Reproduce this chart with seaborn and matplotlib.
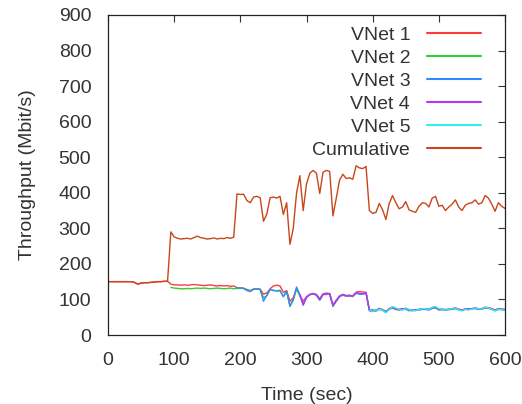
import numpy as np
import pandas as pd
import matplotlib
matplotlib.use("Agg")
import matplotlib.pyplot as plt
import seaborn as sns

# ---- data ----
time = np.arange(0, 601, 5)

cumulative = [
    150, 150, 150, 150, 150, 150, 150, 150, 148, 143,
    146, 147, 147, 148, 149, 150, 150, 151, 151, 290,
    276, 272, 270, 271, 272, 270, 274, 278, 274, 272,
    270, 271, 273, 270, 272, 271, 274, 272, 275, 397,
    395, 396, 378, 372, 388, 390, 386, 320, 340, 386,
    388, 385, 390, 339, 372, 255, 300, 400, 448, 350,
    425, 455, 463, 455, 398, 458, 463, 460, 335, 385,
    436, 452, 440, 442, 438, 476, 470, 468, 474, 350,
    342, 345, 370, 352, 325, 370, 392, 372, 355, 360,
    375, 352, 348, 345, 362, 372, 370, 360, 385, 390,
    362, 365, 350, 360, 368, 380, 360, 350, 365, 370,
    372, 380, 368, 372, 392, 385, 368, 348, 372, 362,
    356,
]

vnet1 = [
    150, 150, 150, 150, 150, 150, 150, 150, 148, 143,
    146, 147, 147, 148, 149, 150, 150, 151, 151,
    143, 141, 141, 140, 141, 140, 141, 142, 141, 140,
    139, 140, 141, 139, 138, 139, 138, 139, 137, 138,
    133, 132, 131, 128, 125, 129, 130, 129, 115, 118,
    130, 138, 140, 138, 120, 125, 95, 105, 130,
    112, 95, 108, 114, 116, 114, 102, 116, 118, 116,
    85, 98, 110, 114, 111, 112, 110, 120, 122, 121, 120,
    70, 68, 69, 74, 70, 65, 74, 79, 74, 71,
    72, 75, 70, 69, 69, 72, 74, 74, 72, 77,
    78, 72, 73, 70, 72, 74, 76, 72, 70, 73,
    74, 74, 76, 74, 74, 78, 77, 74, 70, 74,
    72, 72,
]

vnet2 = [
    134, 132, 131, 130, 130, 131, 130, 131, 132, 131,
    132, 131, 130, 131, 132, 131, 130, 131, 132, 130,
    131, 131, 132, 127, 124, 129, 130, 128, 105, 110,
    128, 126, 124, 126, 108, 122, 80, 98, 130,
    110, 88, 106, 113, 115, 112, 98, 114, 115, 115,
    80, 95, 108, 112, 109, 110, 108, 117, 116, 116, 117,
    72, 70, 67, 72, 72, 66, 72, 76, 72, 70,
    74, 72, 68, 70, 71, 70, 72, 72, 74, 75,
    76, 70, 72, 72, 71, 72, 74, 73, 69, 72,
    72, 74, 74, 72, 72, 76, 75, 72, 68, 72,
    73, 70,
]

vnet3 = [
    133, 132, 131, 125, 122, 129, 129, 128, 95, 112,
    128, 125, 124, 124, 108, 123, 82, 100, 135,
    112, 84, 106, 114, 116, 113, 98, 114, 116, 116,
    82, 96, 110, 113, 110, 111, 110, 118, 115, 115, 118,
    70, 70, 70, 73, 70, 66, 73, 77, 74, 72,
    72, 75, 71, 68, 71, 71, 74, 72, 70, 75,
    78, 72, 71, 70, 72, 73, 75, 71, 70, 73,
    72, 74, 75, 73, 73, 77, 76, 73, 69, 73,
    71, 71,
]

vnet4 = [
    114, 85, 106, 114, 117, 113, 100, 114, 114, 117,
    83, 97, 108, 114, 110, 110, 110, 120, 117, 116, 119,
    68, 66, 69, 75, 70, 64, 74, 78, 72, 72,
    74, 74, 71, 71, 70, 72, 74, 74, 72, 76,
    78, 72, 72, 71, 73, 74, 76, 72, 70, 73,
    72, 74, 76, 73, 73, 77, 76, 73, 70, 73,
    72, 72,
]

vnet5 = [
    70, 66, 70, 72, 70, 62, 72, 80, 76, 72,
    70, 74, 72, 70, 68, 72, 74, 74, 72, 78,
    80, 74, 72, 70, 72, 74, 76, 70, 68, 72,
    70, 73, 76, 74, 72, 78, 76, 72, 68, 72,
    71, 70,
]

names = ["VNet 1", "VNet 2", "VNet 3", "VNet 4", "VNet 5", "Cumulative"]
series = [vnet1, vnet2, vnet3, vnet4, vnet5, cumulative]
colors = ["#ff3b3b", "#33cc33", "#3388ff", "#bb33ff", "#33eeee", "#c8461a"]

frames = []
for name, vals in zip(names, series):
    t = time[len(time) - len(vals):]
    frames.append(pd.DataFrame({"Time": t, "Throughput": vals, "Series": name}))
df = pd.concat(frames, ignore_index=True)

# ---- style ----
sns.set_theme(style="white")
plt.rcParams["font.family"] = ["Liberation Sans", "DejaVu Sans"]
plt.rcParams["text.color"] = "#333333"

FS = 14
fig = plt.figure(figsize=(5.22, 4.04), dpi=100)
ax = fig.add_axes([108 / 522, (404 - 335) / 404, (505 - 108) / 522, (335 - 15) / 404])

sns.lineplot(data=df, x="Time", y="Throughput", hue="Series", hue_order=names,
             palette=dict(zip(names, colors)), estimator=None, sort=False,
             linewidth=1.0, ax=ax)

ax.set_xlim(0, 600)
ax.set_ylim(0, 900)
ax.set_xticks(range(0, 601, 100))
ax.set_yticks(range(0, 901, 100))
ax.tick_params(direction="in", length=5, width=0.8, top=True, right=True,
               labelsize=FS, colors="#333333")
ax.tick_params(axis="y", pad=12)
ax.tick_params(axis="x", pad=12)
for s in ax.spines.values():
    s.set_visible(True)
    s.set_color("#222222")
    s.set_linewidth(0.9)

ax.set_xlabel("Time (sec)", fontsize=FS, color="#333333", labelpad=13)
ax.set_ylabel("Throughput (Mbit/s)", fontsize=FS, color="#333333", labelpad=16)

leg = ax.legend(loc="upper right", bbox_to_anchor=(0.94, 0.965), frameon=False,
                markerfirst=False, fontsize=FS, handlelength=2.8,
                handletextpad=0.85, labelspacing=0.28, borderpad=0, borderaxespad=0)
for line in leg.get_lines():
    line.set_linewidth(1.5)

fig.savefig("out.png", dpi=100)
